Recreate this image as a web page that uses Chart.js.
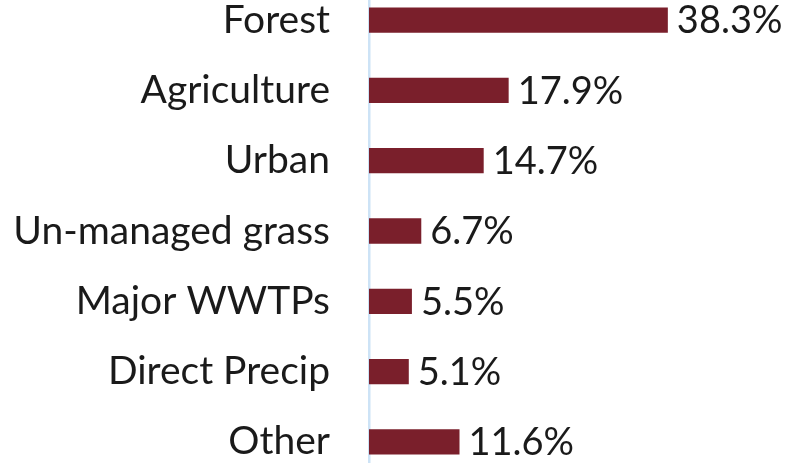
<!DOCTYPE html>
<html>
<head>
    <title>Land use share</title>
    <script src="https://cdn.jsdelivr.net/npm/chart.js"></script>
    <style>
        html, body { margin: 0; padding: 0; background: #fff; overflow: hidden; }
        #land-use-chart { position: absolute; left: 0; top: -15px; }
    </style>
</head>
<body>
    <canvas id="land-use-chart" width="788" height="492"></canvas>

    <script>
        const categories = ['Forest', 'Agriculture', 'Urban', 'Un-managed grass', 'Major WWTPs', 'Direct Precip', 'Other'];
        const shares = [38.3, 17.9, 14.7, 6.7, 5.5, 5.1, 11.6];

        const FONT = 'Lato, "Open Sans", sans-serif';

        // value labels at the end of each bar
        const endLabels = {
            id: 'endLabels',
            afterDatasetsDraw(chart) {
                const ctx = chart.ctx;
                const meta = chart.getDatasetMeta(0);
                ctx.save();
                ctx.font = '38px ' + FONT;
                ctx.fillStyle = '#1a1a1a';
                ctx.textAlign = 'left';
                ctx.textBaseline = 'middle';
                meta.data.forEach((bar, i) => {
                    ctx.fillText(shares[i].toFixed(1) + '%', bar.x + 9, bar.y + 1);
                });
                ctx.restore();
            }
        };

        const ctx = document.getElementById('land-use-chart').getContext('2d');
        new Chart(ctx, {
            type: 'bar',
            data: {
                labels: categories,
                datasets: [{
                    data: shares,
                    backgroundColor: '#7a1f2b',
                    borderWidth: 0,
                    categoryPercentage: 1,
                    barPercentage: 0.36
                }]
            },
            options: {
                indexAxis: 'y',
                responsive: false,
                animation: false,
                layout: { padding: 0 },
                plugins: {
                    legend: { display: false },
                    tooltip: { enabled: false }
                },
                scales: {
                    x: {
                        display: false,
                        min: 0,
                        max: 53.7
                    },
                    y: {
                        afterFit(scale) {
                            scale.width = 369;
                            scale.paddingTop = 0;
                            scale.paddingBottom = 0;
                        },
                        grid: { display: false, drawTicks: false },
                        border: { display: true, color: '#cde3f6', width: 2.5 },
                        ticks: {
                            padding: 39,
                            color: '#1a1a1a',
                            font: { family: FONT, size: 39 }
                        }
                    }
                }
            },
            plugins: [endLabels]
        });
    </script>
</body>
</html>
